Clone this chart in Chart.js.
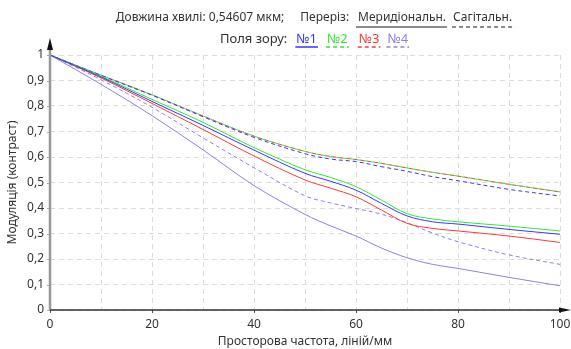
<!DOCTYPE html>
<html>
<head>
<meta charset="utf-8">
<script src="https://cdn.jsdelivr.net/npm/chart.js@4.4.1/dist/chart.umd.min.js"></script>
<style>
    html, body {margin: 0; padding: 0; background: #fff;}
    #wrap {width: 571px; height: 349px;}
</style>
</head>
<body>
<div id="wrap"><canvas id="mtfChart"></canvas></div>
<script>
// просторова частота, ліній/мм
const freq = [0, 10, 20, 30, 40, 50, 55, 60, 65, 70, 75, 80, 90, 100];

// меридіональний переріз (суцільні)
const merid1 = [1, 0.914, 0.818, 0.724, 0.627, 0.536, 0.505, 0.470, 0.418, 0.369, 0.346, 0.337, 0.316, 0.297];
const merid2 = [1, 0.917, 0.826, 0.736, 0.637, 0.550, 0.520, 0.484, 0.431, 0.378, 0.357, 0.346, 0.329, 0.310];
const merid3 = [1, 0.910, 0.810, 0.708, 0.604, 0.510, 0.478, 0.444, 0.392, 0.340, 0.320, 0.310, 0.290, 0.265];
const merid4 = [1, 0.885, 0.762, 0.628, 0.488, 0.375, 0.330, 0.290, 0.243, 0.205, 0.179, 0.163, 0.128, 0.095];

// сагітальний переріз (пунктир)
const sagit1 = [1, 0.920, 0.842, 0.758, 0.677, 0.613, 0.592, 0.582, 0.562, 0.544, 0.523, 0.507, 0.473, 0.447];
const sagit2 = [1, 0.921, 0.844, 0.761, 0.682, 0.622, 0.602, 0.590, 0.575, 0.557, 0.540, 0.525, 0.493, 0.463];
const sagit3 = [1, 0.921, 0.844, 0.761, 0.682, 0.622, 0.602, 0.590, 0.575, 0.557, 0.540, 0.525, 0.493, 0.463];
const sagit4 = [1, 0.903, 0.795, 0.675, 0.558, 0.448, 0.420, 0.398, 0.376, 0.342, 0.302, 0.268, 0.216, 0.179];

const fieldNames = ['№1', '№2', '№3', '№4'];
const fieldColors = ['#3636ff', '#2fea2f', '#ff3838', '#8e82e0'];
const yTicks = [0, 0.1, 0.2, 0.3, 0.4, 0.5, 0.6, 0.7, 0.8, 0.9, 1];

const headFont = '12px "Noto Sans", "Open Sans", sans-serif';
const legendFont = '13px "Noto Sans", "Open Sans", sans-serif';

function toPoints(values) {
    return values.map((v, i) => ({x: freq[i], y: v}));
}

function makeSet(label, values, color, dashed, offset) {
    return {
        label: label,
        data: toPoints(values),
        borderColor: color,
        borderWidth: 1,
        borderDash: dashed ? [4, 3] : [],
        borderDashOffset: offset || 0,
        pointRadius: 0,
        fill: false,
        tension: 0.35
    };
}

// Заголовок з легендою (дві строки по центру)
const headerLegend = {
    id: 'headerLegend',
    afterDraw(chart) {
        const ctx = chart.ctx;
        const cx = 314;
        ctx.save();
        ctx.font = headFont;
        ctx.textBaseline = 'middle';
        ctx.textAlign = 'left';

        // строка 1
        const p1 = 'Довжина хвилі: 0,54607 мкм;';
        const p2 = 'Переріз:';
        const p3 = 'Меридіональн.';
        const p4 = 'Сагітальн.';
        const g1 = 16, g2 = 9, g3 = 7;
        const w1 = ctx.measureText(p1).width, w2 = ctx.measureText(p2).width;
        const w3 = ctx.measureText(p3).width, w4 = ctx.measureText(p4).width;
        let x = cx - (w1 + g1 + w2 + g2 + w3 + g3 + w4) / 2;
        const y1 = 18;
        ctx.fillStyle = '#333';
        ctx.fillText(p1, x, y1);
        x += w1 + g1;
        ctx.fillText(p2, x, y1);
        x += w2 + g2;
        ctx.fillText(p3, x, y1);
        ctx.strokeStyle = '#666';
        ctx.lineWidth = 1.5;
        ctx.beginPath();
        ctx.moveTo(x - 2, y1 + 9);
        ctx.lineTo(x + w3 + 1, y1 + 9);
        ctx.stroke();
        x += w3 + g3;
        ctx.fillText(p4, x, y1);
        ctx.setLineDash([4, 3]);
        ctx.beginPath();
        ctx.moveTo(x - 1, y1 + 9);
        ctx.lineTo(x + w4 + 3, y1 + 9);
        ctx.stroke();
        ctx.setLineDash([]);

        // строка 2
        ctx.font = legendFont;
        const q = 'Поля зору:';
        const wq = ctx.measureText(q).width;
        const widths = fieldNames.map(n => ctx.measureText(n).width);
        const gaps = [9, 10, 11, 8];
        let total = wq;
        widths.forEach((w, i) => total += gaps[i] + w);
        x = cx - total / 2;
        const y2 = 39;
        ctx.fillStyle = '#333';
        ctx.fillText(q, x, y2);
        x += wq;
        fieldNames.forEach((n, i) => {
            x += gaps[i];
            ctx.fillStyle = fieldColors[i];
            ctx.fillText(n, x, y2);
            ctx.strokeStyle = fieldColors[i];
            ctx.lineWidth = 1.5;
            ctx.setLineDash(i === 0 ? [] : [4, 3]);
            ctx.beginPath();
            ctx.moveTo(x - 1, y2 + 8);
            ctx.lineTo(x + widths[i] + 1, y2 + 8);
            ctx.stroke();
            x += widths[i];
        });
        ctx.restore();
    }
};

// Осі зі стрілками
const axesArrows = {
    id: 'axesArrows',
    afterDatasetsDraw(chart) {
        const {ctx, chartArea: a, scales} = chart;
        ctx.save();
        ctx.setLineDash([]);

        // мітки на осях
        ctx.strokeStyle = '#555';
        ctx.lineWidth = 1;
        [0, 20, 40, 60, 80, 100].forEach(v => {
            const px = Math.round(scales.x.getPixelForValue(v)) + 0.5;
            ctx.beginPath();
            ctx.moveTo(px, a.bottom);
            ctx.lineTo(px, a.bottom + 3);
            ctx.stroke();
        });
        ctx.strokeStyle = '#aaa';
        yTicks.forEach(v => {
            const py = Math.round(scales.y.getPixelForValue(v)) + 0.5;
            ctx.beginPath();
            ctx.moveTo(a.left - 3, py);
            ctx.lineTo(a.left, py);
            ctx.stroke();
        });

        // вісь Y
        ctx.strokeStyle = '#999';
        ctx.lineWidth = 2.5;
        ctx.beginPath();
        ctx.moveTo(a.left, a.bottom);
        ctx.lineTo(a.left, a.top - 6);
        ctx.stroke();
        ctx.fillStyle = '#111';
        ctx.beginPath();
        ctx.moveTo(a.left, a.top - 17);
        ctx.lineTo(a.left - 3, a.top - 5);
        ctx.lineTo(a.left + 3, a.top - 5);
        ctx.closePath();
        ctx.fill();

        // вісь X
        ctx.strokeStyle = '#333';
        ctx.lineWidth = 1.5;
        ctx.beginPath();
        ctx.moveTo(a.left, a.bottom);
        ctx.lineTo(chart.width - 8, a.bottom);
        ctx.stroke();
        ctx.fillStyle = '#111';
        ctx.beginPath();
        ctx.moveTo(chart.width, a.bottom);
        ctx.lineTo(a.right - 1, a.bottom - 2.5);
        ctx.lineTo(a.right - 1, a.bottom + 2.5);
        ctx.closePath();
        ctx.fill();
        ctx.restore();
    }
};

const datasets = [
    makeSet('№1 мерид.', merid1, fieldColors[0], false),
    makeSet('№2 мерид.', merid2, fieldColors[1], false),
    makeSet('№3 мерид.', merid3, fieldColors[2], false),
    makeSet('№4 мерид.', merid4, fieldColors[3], false),
    makeSet('№1 сагіт.', sagit1, fieldColors[0], true),
    makeSet('№4 сагіт.', sagit4, fieldColors[3], true),
    makeSet('№2 сагіт.', sagit2, fieldColors[1], true, 3),
    makeSet('№3 сагіт.', sagit3, fieldColors[2], true)
];

new Chart(document.getElementById('mtfChart'), {
    type: 'line',
    data: {datasets: datasets},
    options: {
        responsive: true,
        maintainAspectRatio: false,
        animation: false,
        devicePixelRatio: 1,
        layout: {padding: {top: 55, right: 11, left: 0, bottom: 0}},
        plugins: {
            legend: {display: false},
            tooltip: {enabled: false}
        },
        scales: {
            x: {
                type: 'linear',
                min: 0,
                max: 100,
                afterFit: s => {
                    s.height = 39;
                    s.paddingLeft = 0;
                    s.paddingRight = 0;
                },
                grid: {color: '#dcdcdc', drawTicks: false},
                border: {display: false, dash: [5, 4]},
                ticks: {
                    stepSize: 10,
                    autoSkip: false,
                    maxRotation: 0,
                    padding: 7,
                    color: '#333',
                    font: {family: '"Noto Sans", sans-serif', size: 12},
                    callback: v => (v % 20 === 0 ? String(v) : '')
                },
                title: {
                    display: true,
                    text: 'Просторова частота, ліній/мм',
                    color: '#333',
                    padding: {top: 0, bottom: 0},
                    font: {family: '"Noto Sans", sans-serif', size: 12}
                }
            },
            y: {
                min: 0,
                max: 1,
                afterFit: s => {
                    s.width = 50;
                    s.paddingTop = 0;
                    s.paddingBottom = 0;
                },
                grid: {color: '#dcdcdc', drawTicks: false},
                border: {display: false, dash: [5, 4]},
                ticks: {
                    stepSize: 0.1,
                    padding: 6,
                    color: '#333',
                    font: {family: '"Noto Sans", sans-serif', size: 12},
                    callback: v => {
                        const r = Math.round(v * 10) / 10;
                        if (r === 0 || r === 1) return String(r);
                        return r.toFixed(1).replace('.', ',');
                    }
                },
                title: {
                    display: true,
                    text: 'Модуляція (контраст)',
                    color: '#333',
                    padding: {top: 5, bottom: 0},
                    font: {family: '"Noto Sans", sans-serif', size: 12}
                }
            }
        }
    },
    plugins: [headerLegend, axesArrows]
});
</script>
</body>
</html>
